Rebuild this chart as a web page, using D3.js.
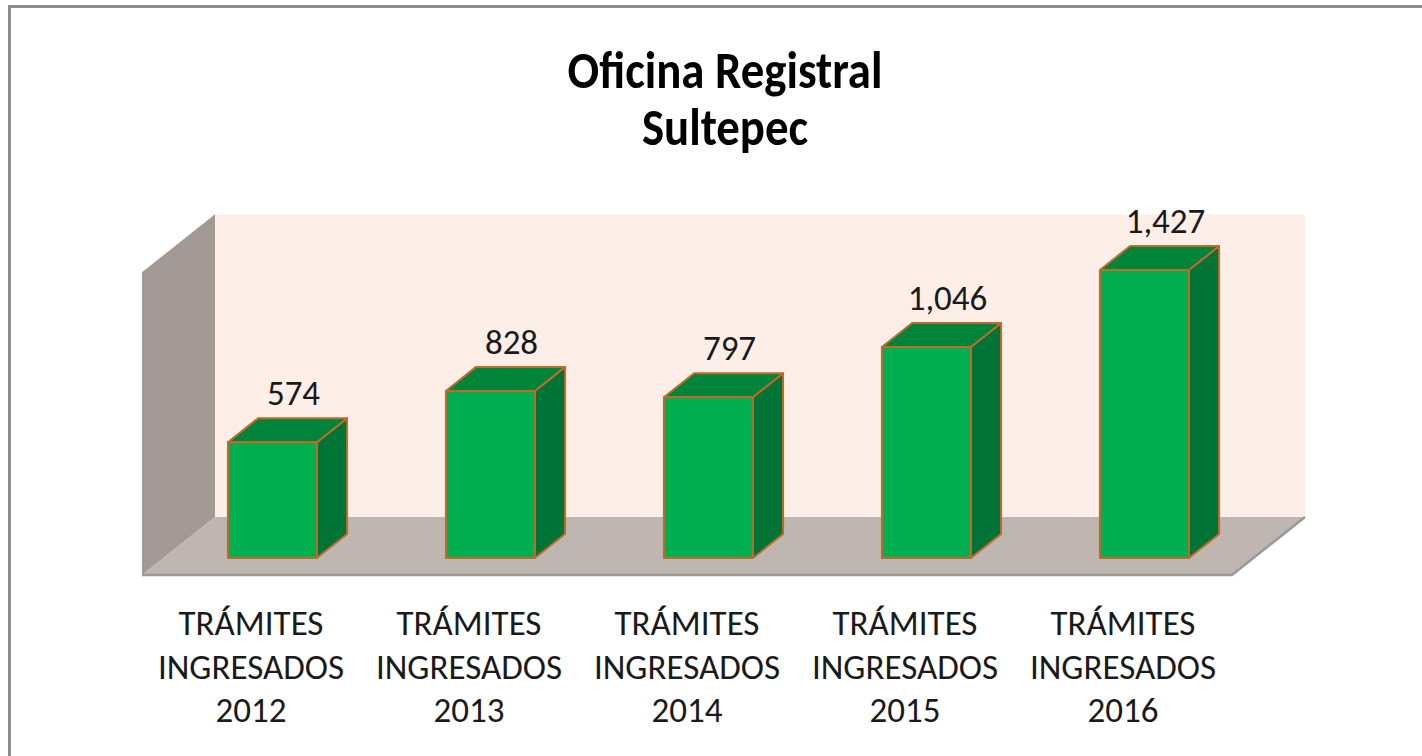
<!DOCTYPE html>
<html>
<head>
<meta charset="utf-8">
<script src="https://cdn.jsdelivr.net/npm/d3@7"></script>
<style>
  html, body { margin: 0; padding: 0; background: #ffffff; overflow: hidden; }
  svg { display: block; }
</style>
</head>
<body>
<svg id="chart" width="1422" height="756"></svg>
<script>
// ---- data ----
const titleLines = ["Oficina Registral", "Sultepec"];
const years = ["2012", "2013", "2014", "2015", "2016"];
const categoryLines = [
  ["TRÁMITES", "INGRESADOS", "2012"],
  ["TRÁMITES", "INGRESADOS", "2013"],
  ["TRÁMITES", "INGRESADOS", "2014"],
  ["TRÁMITES", "INGRESADOS", "2015"],
  ["TRÁMITES", "INGRESADOS", "2016"]
];
const values = [574, 828, 797, 1046, 1427];
const axisMax = 1500;

// ---- layout ----
const svg = d3.select("#chart");
const W = 1422, H = 756;
const floorFront = 575, left = 142, right = 1232;
const DX = 73, DY = 58;          // full depth offset of the 3D box
const d0 = 0.293, d1 = 0.707;    // bar depth span (fraction of floor depth)
const fontFam = "Calibri, Carlito, Lato, sans-serif";

const x = d3.scaleBand().domain(years).range([left, right])
  .paddingInner(0.592).paddingOuter(0.296);
const y = d3.scaleLinear().domain([0, axisMax]).range([floorFront, floorFront - 302.7]);

const P = (px, v, d) => [px + d * DX, y(v) - d * DY];
const poly = pts => "M" + pts.map(p => p.join(",")).join("L") + "Z";

// frame
svg.append("rect").attr("x", 9.5).attr("y", 6.5).attr("width", W + 20).attr("height", H + 20)
  .attr("fill", "none").attr("stroke", "#8c8c8c").attr("stroke-width", 3);

// title
const title = svg.append("text").attr("transform", "translate(725,0) scale(0.9,1)")
  .attr("text-anchor", "middle")
  .attr("font-family", fontFam).attr("font-weight", "bold").attr("font-size", 52).attr("fill", "#000");
titleLines.forEach((t, i) => title.append("tspan").attr("x", 0).attr("y", 88 + i * 57).text(t));

// back wall
svg.append("path").attr("d", poly([P(left, 0, 1), P(left, axisMax, 1), P(right, axisMax, 1), P(right, 0, 1)]))
  .attr("fill", "#fdeee7");
// left wall
svg.append("path").attr("d", poly([P(left, 0, 0), P(left, axisMax, 0), P(left, axisMax, 1), P(left, 0, 1)]))
  .attr("fill", "#a39a96");
// floor
svg.append("path").attr("d", poly([P(left, 0, 0), P(left, 0, 1), P(right, 0, 1), P(right, 0, 0)]))
  .attr("fill", "#bfb5b1");
svg.append("path").attr("d", "M" + [P(left, 0, 0), P(right, 0, 0), P(right, 0, 1)].map(p => p.join(",")).join("L"))
  .attr("fill", "none").attr("stroke", "#999999").attr("stroke-width", 2.5);

// bars
const bars = svg.append("g").selectAll("g").data(years).join("g");
bars.each(function (yr, i) {
  const g = d3.select(this);
  const v = values[i];
  const x0 = x(yr), x1 = x(yr) + x.bandwidth();
  const style = s => s.attr("stroke", "#c06a2b").attr("stroke-width", 2).attr("stroke-linejoin", "round");
  // side
  style(g.append("path").attr("d", poly([P(x1, 0, d0), P(x1, v, d0), P(x1, v, d1), P(x1, 0, d1)]))
    .attr("fill", "#007437"));
  // top
  style(g.append("path").attr("d", poly([P(x0, v, d0), P(x0, v, d1), P(x1, v, d1), P(x1, v, d0)]))
    .attr("fill", "#00843a"));
  // front
  style(g.append("path").attr("d", poly([P(x0, 0, d0), P(x0, v, d0), P(x1, v, d0), P(x1, 0, d0)]))
    .attr("fill", "#00b050"));
  // value label
  const top = P((x0 + x1) / 2, v, (d0 + d1) / 2);
  g.append("text").attr("x", top[0] + 6).attr("y", P(x0, v, d1)[1] - 13)
    .attr("text-anchor", "middle").attr("font-family", fontFam).attr("font-size", 35)
    .attr("fill", "#1a1a1a").text(d3.format(",")(v));
});

// category labels
const labels = svg.append("g").selectAll("text").data(years).join("text")
  .attr("text-anchor", "middle").attr("font-family", fontFam).attr("font-size", 35).attr("fill", "#1a1a1a");
labels.each(function (yr, i) {
  const cx = x(yr) + x.bandwidth() / 2;
  categoryLines[i].forEach((t, j) =>
    d3.select(this).append("tspan").attr("x", cx).attr("y", 635 + j * 43.5).text(t));
});
</script>
</body>
</html>
